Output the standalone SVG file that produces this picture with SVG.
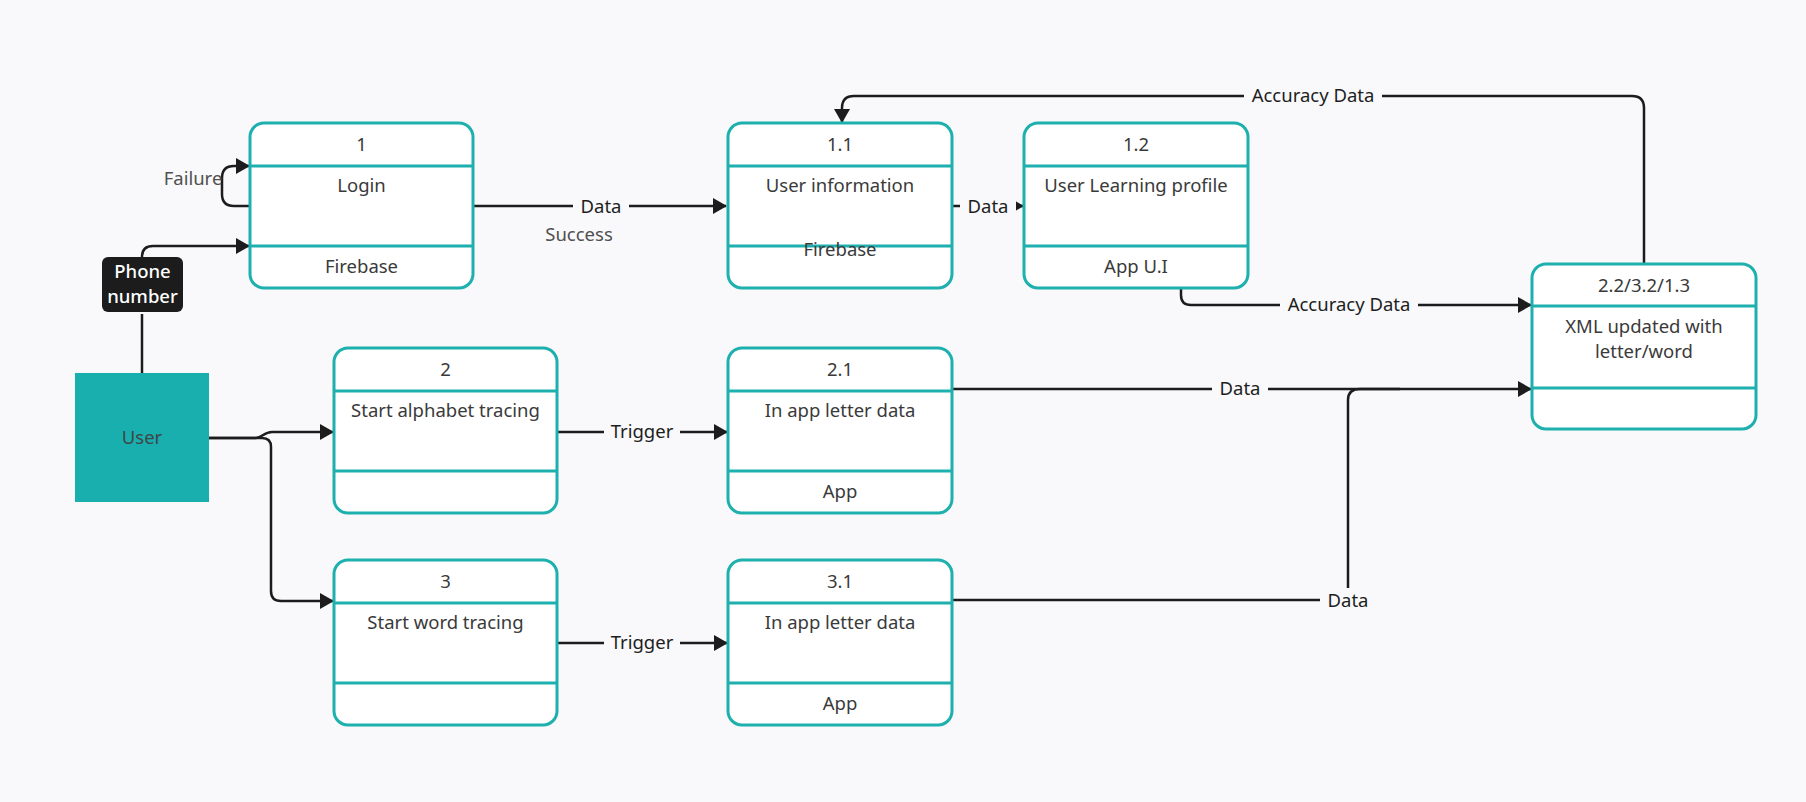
<svg xmlns="http://www.w3.org/2000/svg" width="1806" height="802" viewBox="0 0 1806 802">
<defs>
<style>
.box{fill:#ffffff;stroke:#1DB0AE;stroke-width:3}
.div{stroke:#1DB0AE;stroke-width:3}
.t{font-family:"Noto Sans","Open Sans",sans-serif;font-size:18.5px;fill:#3a3a3a;text-anchor:middle}
.lbl{font-family:"Noto Sans","Open Sans",sans-serif;font-size:18.5px;fill:#1e1e1e;text-anchor:middle}
.gl{font-family:"Noto Sans","Open Sans",sans-serif;font-size:18.5px;fill:#505050;text-anchor:middle}
.c{fill:none;stroke:#1c1c1c;stroke-width:2.5}
.bg{fill:#F9F9FB}
</style>
<marker id="arr" viewBox="0 0 14 16" refX="13" refY="8" markerWidth="14" markerHeight="16" markerUnits="userSpaceOnUse" orient="auto">
<path d="M0,0 L14,8 L0,16 z" fill="#1c1c1c"/>
</marker>
</defs>
<rect x="0" y="0" width="1806" height="802" fill="#F9F9FB"/>

<g id="connectors">
<path class="c" d="M473,206 H726" marker-end="url(#arr)"/>
<rect class="bg" x="573" y="194" width="56" height="24"/>
<text class="lbl" x="601" y="213">Data</text>
<text class="gl" x="579" y="241">Success</text>

<path class="c" d="M953,206 H1023" marker-end="url(#arr)"/>
<rect class="bg" x="960" y="194" width="56" height="24"/>
<text class="lbl" x="988" y="213">Data</text>

<path class="c" d="M1644,264 V108 Q1644,96 1632,96 H854 Q842,96 842,108 V122" marker-end="url(#arr)"/>
<rect class="bg" x="1244" y="84" width="138" height="24"/>
<text class="lbl" x="1313" y="102">Accuracy Data</text>

<path class="c" d="M1181,288 V295 Q1181,305 1191,305 H1531" marker-end="url(#arr)"/>
<rect class="bg" x="1280" y="293" width="138" height="24"/>
<text class="lbl" x="1349" y="311">Accuracy Data</text>

<path class="c" d="M953,389 H1531" marker-end="url(#arr)"/>
<rect class="bg" x="1212" y="377" width="56" height="24"/>
<text class="lbl" x="1240" y="395">Data</text>

<path class="c" d="M953,600 H1348 V400 Q1348,389 1360,389 H1400"/>
<rect class="bg" x="1320" y="588" width="56" height="26"/>
<text class="lbl" x="1348" y="607">Data</text>

<path class="c" d="M209,438 H256 C262,438 264,432 272,432 H333" marker-end="url(#arr)"/>
<path class="c" d="M209,438 H262 Q271,438 271,447 V591 Q271,601 281,601 H333" marker-end="url(#arr)"/>

<path class="c" d="M557,432 H727" marker-end="url(#arr)"/>
<rect class="bg" x="604" y="420" width="76" height="24"/>
<text class="lbl" x="642" y="438">Trigger</text>

<path class="c" d="M557,643 H727" marker-end="url(#arr)"/>
<rect class="bg" x="604" y="631" width="76" height="24"/>
<text class="lbl" x="642" y="649">Trigger</text>

<path class="c" d="M142,373 V314"/>
<path class="c" d="M142,257 Q142,246 153,246 H249" marker-end="url(#arr)"/>

<path class="c" d="M250,206 H234 Q222,206 222,194 V178 Q222,166 234,166 H249" marker-end="url(#arr)"/>
<text class="gl" x="193" y="185">Failure</text>
</g>

<g id="phone">
<rect x="102" y="257" width="81" height="55" rx="6" fill="#1c1c1c"/>
<text x="142.5" y="278" font-family="Noto Sans, Open Sans, sans-serif" font-size="18.5" font-weight="500" fill="#ffffff" text-anchor="middle">Phone</text>
<text x="142.5" y="303" font-family="Noto Sans, Open Sans, sans-serif" font-size="18.5" font-weight="500" fill="#ffffff" text-anchor="middle">number</text>
</g>

<g id="user">
<rect x="75" y="373" width="134" height="129" fill="#1AAFAF"/>
<text class="t" x="142" y="444" style="fill:#3d4747">User</text>
</g>

<g id="n1">
<rect class="box" x="250" y="123" width="223" height="165" rx="14"/>
<line class="div" x1="250" y1="166" x2="473" y2="166"/>
<line class="div" x1="250" y1="246" x2="473" y2="246"/>
<text class="t" x="361.5" y="151">1</text>
<text class="t" x="361.5" y="192">Login</text>
<text class="t" x="361.5" y="273">Firebase</text>
</g>

<g id="n1_1">
<rect class="box" x="728" y="123" width="224" height="165" rx="14"/>
<line class="div" x1="728" y1="166" x2="952" y2="166"/>
<line class="div" x1="728" y1="246" x2="952" y2="246"/>
<text class="t" x="840" y="151">1.1</text>
<text class="t" x="840" y="192">User information</text>
<text class="t" x="840" y="256">Firebase</text>
</g>

<g id="n1_2">
<rect class="box" x="1024" y="123" width="224" height="165" rx="14"/>
<line class="div" x1="1024" y1="166" x2="1248" y2="166"/>
<line class="div" x1="1024" y1="246" x2="1248" y2="246"/>
<text class="t" x="1136" y="151">1.2</text>
<text class="t" x="1136" y="192">User Learning profile</text>
<text class="t" x="1136" y="273">App U.I</text>
</g>

<g id="n2">
<rect class="box" x="334" y="348" width="223" height="165" rx="14"/>
<line class="div" x1="334" y1="391" x2="557" y2="391"/>
<line class="div" x1="334" y1="471" x2="557" y2="471"/>
<text class="t" x="445.5" y="376">2</text>
<text class="t" x="445.5" y="417">Start alphabet tracing</text>
</g>

<g id="n2_1">
<rect class="box" x="728" y="348" width="224" height="165" rx="14"/>
<line class="div" x1="728" y1="391" x2="952" y2="391"/>
<line class="div" x1="728" y1="471" x2="952" y2="471"/>
<text class="t" x="840" y="376">2.1</text>
<text class="t" x="840" y="417">In app letter data</text>
<text class="t" x="840" y="498">App</text>
</g>

<g id="n3">
<rect class="box" x="334" y="560" width="223" height="165" rx="14"/>
<line class="div" x1="334" y1="603" x2="557" y2="603"/>
<line class="div" x1="334" y1="683" x2="557" y2="683"/>
<text class="t" x="445.5" y="588">3</text>
<text class="t" x="445.5" y="629">Start word tracing</text>
</g>

<g id="n3_1">
<rect class="box" x="728" y="560" width="224" height="165" rx="14"/>
<line class="div" x1="728" y1="603" x2="952" y2="603"/>
<line class="div" x1="728" y1="683" x2="952" y2="683"/>
<text class="t" x="840" y="588">3.1</text>
<text class="t" x="840" y="629">In app letter data</text>
<text class="t" x="840" y="710">App</text>
</g>

<g id="n_xml">
<rect class="box" x="1532" y="264" width="224" height="165" rx="14"/>
<line class="div" x1="1532" y1="306" x2="1756" y2="306"/>
<line class="div" x1="1532" y1="388" x2="1756" y2="388"/>
<text class="t" x="1644" y="292">2.2/3.2/1.3</text>
<text class="t" x="1644" y="333">XML updated with</text>
<text class="t" x="1644" y="358">letter/word</text>
</g>
</svg>
